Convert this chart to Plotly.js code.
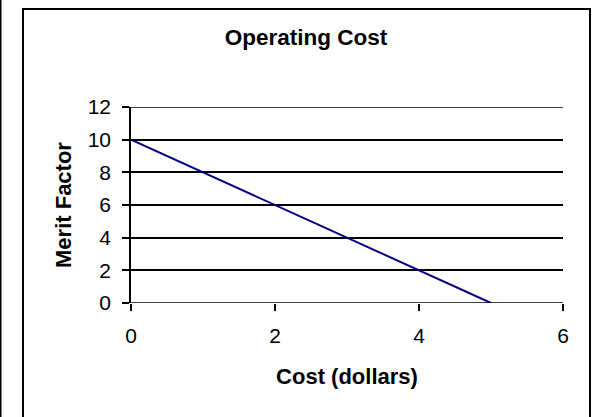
<!DOCTYPE html>
<html>
<head>
<meta charset="utf-8">
<script src="https://cdn.plot.ly/plotly-3.0.1.min.js"></script>
<style>
  html, body { margin: 0; padding: 0; background: #fff; }
  #chart { width: 599px; height: 417px; }
</style>
</head>
<body>
<div id="chart"></div>
<script>
// Data
const costDollars = [0, 1, 2, 3, 4, 5];
const meritFactor = [10, 8, 6, 4, 2, 0];
const xTickValues = [0, 2, 4, 6];
const yTickValues = [0, 2, 4, 6, 8, 10, 12];
const chartTitle = "Operating Cost";
const xTitle = "Cost (dollars)";
const yTitle = "Merit Factor";

const W = 599, H = 417;
const L = 131, R = 36, T = 107, B = 114;
const pw = W - L - R, ph = H - T - B;
function px(x) { return (x - L) / pw; }
function py(y) { return (H - B - y) / ph; }

const trace = {
  x: costDollars,
  y: meritFactor,
  type: 'scatter',
  mode: 'lines',
  line: { color: '#000080', width: 2 },
  hoverinfo: 'x+y',
  showlegend: false
};

const fontFam = '"Liberation Sans", Arial, sans-serif';

const layout = {
  width: W, height: H,
  margin: { l: L, r: R, t: T, b: B, pad: 0 },
  paper_bgcolor: '#ffffff',
  plot_bgcolor: '#ffffff',
  font: { family: fontFam, color: '#000000', size: 21 },
  title: {
    text: '<b>' + chartTitle + '</b>',
    font: { family: fontFam, size: 22.5, color: '#000' },
    xref: 'paper', x: px(306), xanchor: 'center',
    yref: 'container', y: 1 - 37 / H, yanchor: 'middle'
  },
  xaxis: {
    range: [0, 6],
    tickvals: xTickValues,
    ticks: 'outside', ticklen: 7, tickwidth: 1.5, tickcolor: '#000',
    showline: false,
    showgrid: false,
    zeroline: false,
    tickfont: { family: fontFam, size: 21, color: '#000' },
    ticklabelstandoff: 7,
    title: { text: '<b>' + xTitle + '</b>', font: { family: fontFam, size: 22, color: '#000' }, standoff: 22 },
    fixedrange: true
  },
  yaxis: {
    range: [0, 12],
    tickvals: yTickValues,
    ticks: 'outside', ticklen: 7, tickwidth: 1.5, tickcolor: '#000',
    showline: true, linecolor: '#000', linewidth: 1.5,
    showgrid: true, gridcolor: '#000', gridwidth: 1.5,
    zeroline: false,
    tickfont: { family: fontFam, size: 21, color: '#000' },
    ticklabelstandoff: 7,
    title: { text: '<b>' + yTitle + '</b>', font: { family: fontFam, size: 22, color: '#000' }, standoff: 10 },
    fixedrange: true
  },
  shapes: [
    // x-axis baseline along y = 0 and top gridline along y = 12
    { type: 'line', xref: 'x', yref: 'y', x0: 0, x1: 6, y0: 0, y1: 0,
      line: { color: '#000', width: 1.5 }, layer: 'above' },
    { type: 'line', xref: 'x', yref: 'y', x0: 0, x1: 6, y0: 12, y1: 12,
      line: { color: '#000', width: 1.5 }, layer: 'above' },
    // outer chart border
    { type: 'rect', xref: 'paper', yref: 'paper',
      x0: px(23), x1: px(590), y0: py(430), y1: py(9),
      line: { color: '#000', width: 2 }, fillcolor: 'rgba(0,0,0,0)' },
    // neighbouring chart's edge at far left
    { type: 'line', xref: 'paper', yref: 'paper',
      x0: px(0.5), x1: px(0.5), y0: py(430), y1: py(-10),
      line: { color: '#000', width: 2 } }
  ]
};

Plotly.newPlot('chart', [trace], layout, { displayModeBar: false, staticPlot: false });
</script>
</body>
</html>
